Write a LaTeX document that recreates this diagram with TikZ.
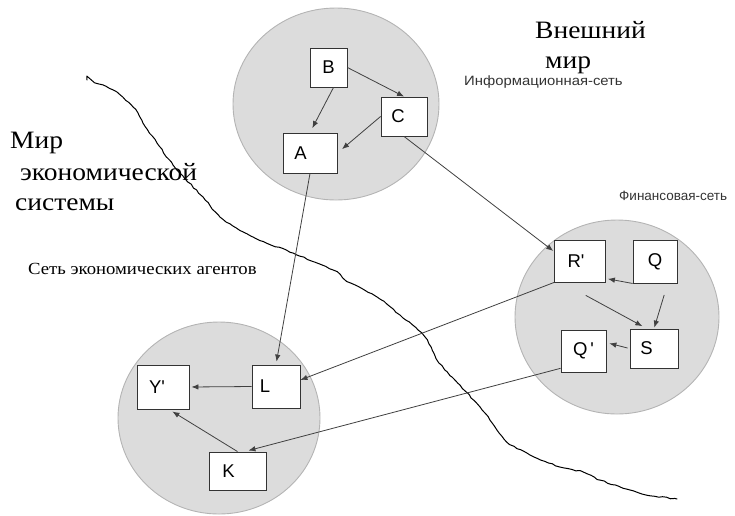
\documentclass[tikz,border=0pt]{standalone}
\usepackage{fontspec}
\usepackage{graphicx}
\setmainfont{Liberation Serif}
\newfontfamily\boxfont{Liberation Sans}
\usetikzlibrary{arrows.meta,decorations.pathmorphing}
\definecolor{zonefill}{HTML}{DCDCDC}
\definecolor{zoneedge}{HTML}{B4B4B4}
\newcommand\padr[1]{\rule{#1}{0pt}}
\newcommand\wide[1]{\scalebox{1.1}[1]{#1}}
\tikzset{
  netzone/.style={fill=zonefill, draw=zoneedge, line width=0.9pt},
  agent/.style={draw=black!80, fill=white, line width=0.9pt, inner sep=0pt,
    font=\boxfont\fontsize{18.5}{20}\selectfont},
  link/.style={draw=black!75, line width=0.8pt, -{Latex[length=7pt,width=5.5pt]}},
  bigtitle/.style={anchor=base west, inner sep=0pt, font=\fontsize{25}{28}\selectfont},
  netname/.style={anchor=base west, inner sep=0pt, text=black!80,
    font=\boxfont\fontsize{13.5}{16}\selectfont},
  border/.style={line width=1pt, line cap=round, line join=round,
    decorate, decoration={random steps, segment length=4pt, amplitude=0.6pt}}
}
\begin{document}
\begin{tikzpicture}[x=1pt, y=-1pt]
  \useasboundingbox (0,0) rectangle (735,515);
  % three networks
  \draw[netzone] (336,104) ellipse [x radius=103, y radius=96];
  \draw[netzone] (617,317) ellipse [x radius=102, y radius=97];
  \draw[netzone] (219,418) ellipse [x radius=101, y radius=96];
  % border between the two worlds
  \pgfmathsetseed{7}
  \draw[border] plot[smooth] coordinates {(87,80) (113,90) (133,107) (143,123)
    (157,143) (177,170) (203,197) (220,217) (253,237) (293,253) (333,270)
    (347,281) (377,297) (400,315) (418,330) (427,340) (437,360) (452,377)
    (480,407) (497,430) (507,442) (530,455) (560,467) (583,472) (600,480)
    (630,490) (647,495) (677,499)};
  % agents
  \foreach \n/\x/\y/\w/\h/\t in {B/328.5/67.5/37/39/{B},
      C/404/116.5/46/39/{C\padr{12pt}}, A/310/153/54/40/{A\padr{19pt}},
      R/580/261/51/42/{R'\padr{8pt}}, Q/655/261.5/44/43/{Q},
      S/654/348.5/48/39/{S\padr{15pt}}, Qp/583.5/351/45/42/{Q\,'},
      Yp/163/387/52/44/{Y'\padr{12pt}}, L/276/386.5/48/43/{L\padr{22pt}},
      K/237.5/471/57/38/{K\padr{18pt}}}{
    \node[agent, minimum width=\w pt, minimum height=\h pt] (\n) at (\x,\y) {\t};
  }
  % links
  \draw[link, shorten >=5pt] ([xshift=5pt]B.south) -- (A.north);
  \draw[link] (B.east) -- (C.north);
  \draw[link, shorten >=6pt] (C.west) -- (A.east);
  \draw[link, shorten >=1pt] (C.south) -- (R.160);
  \draw[link, shorten >=3pt] (A.south) -- (L.north);
  \draw[link] (R.south west) -- (L.15);
  \draw[link, shorten >=4pt] (Qp.217) -- (K.70);
  \draw[link, shorten >=2pt] (L.west) -- (Yp.east);
  \draw[link, shorten >=4pt] (K.north) -- (Yp.-75);
  \draw[link, shorten >=2pt] (Q.south west) -- (R.-34);
  \draw[link, shorten <=12pt, shorten >=1pt] (Q.-60) -- (S.north);
  \draw[link, shorten <=27pt, shorten >=5pt] (R.-130) -- (S.110);
  \draw[link, shorten <=2pt, shorten >=3pt] (S.west) -- (Qp.20);
  % texts
  \node[bigtitle] (outer1) at (535,38) {\wide{Внешний}};
  \node[bigtitle] (outer2) at (545,68) {\wide{мир}};
  \node[netname] (info) at (464,85) {\wide{Информационная-сеть}};
  \node[netname] (fin) at (619,200) {Финансовая-сеть};
  \node[bigtitle] (econ1) at (10,148) {\wide{Мир}};
  \node[bigtitle] (econ2) at (20,180) {\wide{экономической}};
  \node[bigtitle] (econ3) at (15,210) {\wide{системы}};
  \node[anchor=base west, inner sep=0pt, font=\fontsize{17}{20}\selectfont]
    (agents) at (28,274) {\wide{Сеть экономических агентов}};
\end{tikzpicture}
\end{document}
